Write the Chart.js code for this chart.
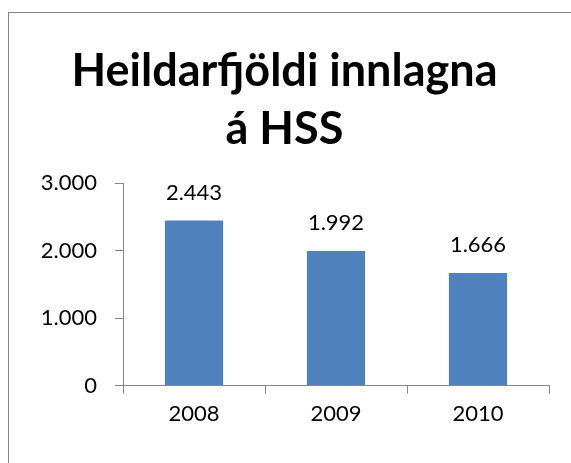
<!DOCTYPE html>
<html>
<head>
<meta charset="utf-8">
<script src="https://cdn.jsdelivr.net/npm/chart.js@4/dist/chart.umd.min.js"></script>
<style>
  html, body { margin: 0; padding: 0; background: #fff; }
  #wrap { width: 571px; height: 463px; position: relative; }
</style>
</head>
<body>
<div id="wrap"><canvas id="myChart" width="571" height="463"></canvas></div>
<script>
"use strict";

const years = ["2008", "2009", "2010"];
const innlagnir = [2443, 1992, 1666];
const yTicks = [0, 1000, 2000, 3000];
const titleLines = ["Heildarfjöldi innlagna", "á HSS"];

const FONT = "Lato, 'Open Sans', sans-serif";

// 3000 -> "3.000"
function fmt(n) {
  return String(Math.round(n)).replace(/\B(?=(\d{3})+(?!\d))/g, ".");
}

// frame round the chart, as in the picture
const frame = {
  id: "frame",
  beforeDraw(chart) {
    const ctx = chart.ctx;
    ctx.save();
    ctx.strokeStyle = "#868686";
    ctx.lineWidth = 1;
    ctx.strokeRect(8.5, 12.5, 600, 500);
    ctx.restore();
  },
};

// value labels above the bars
const barLabels = {
  id: "barLabels",
  afterDatasetsDraw(chart) {
    const ctx = chart.ctx;
    const meta = chart.getDatasetMeta(0);
    ctx.save();
    ctx.font = "22px " + FONT;
    ctx.fillStyle = "#000";
    ctx.textAlign = "center";
    ctx.textBaseline = "middle";
    meta.data.forEach((bar, i) => {
      ctx.fillText(fmt(innlagnir[i]), bar.x, bar.y - 28);
    });
    ctx.restore();
  },
};

const ctx = document.getElementById("myChart").getContext("2d");
const myChart = new Chart(ctx, {
  type: "bar",
  data: {
    labels: years,
    datasets: [
      {
        data: innlagnir,
        backgroundColor: "#4F81BD",
        categoryPercentage: 1,
        barPercentage: 0.41,
      },
    ],
  },
  options: {
    responsive: false,
    animation: false,
    layout: { padding: { top: 42, right: 22, bottom: 29, left: 20 } },
    plugins: {
      legend: { display: false },
      tooltip: { enabled: false },
      title: {
        display: true,
        text: titleLines,
        color: "#000",
        font: { family: FONT, size: 45, weight: "bold", lineHeight: 1.3 },
        padding: { top: 0, bottom: 24 },
      },
    },
    scales: {
      x: {
        offset: true,
        grid: {
          display: true,
          offset: true,
          drawOnChartArea: false,
          tickLength: 8,
          color: "#868686",
        },
        border: { color: "#868686" },
        ticks: {
          color: "#000",
          padding: 7,
          font: { family: FONT, size: 22 },
        },
      },
      y: {
        min: 0,
        max: 3000,
        afterBuildTicks(scale) {
          scale.ticks = yTicks.map((v) => ({ value: v }));
        },
        afterFit(scale) {
          scale.width = 103;
        },
        grid: {
          display: true,
          drawOnChartArea: false,
          tickLength: 8,
          color: "#868686",
        },
        border: { color: "#868686" },
        ticks: {
          color: "#000",
          padding: 18,
          font: { family: FONT, size: 22 },
          callback: (v) => fmt(v),
        },
      },
    },
  },
  plugins: [frame, barLabels],
});
</script>
</body>
</html>
